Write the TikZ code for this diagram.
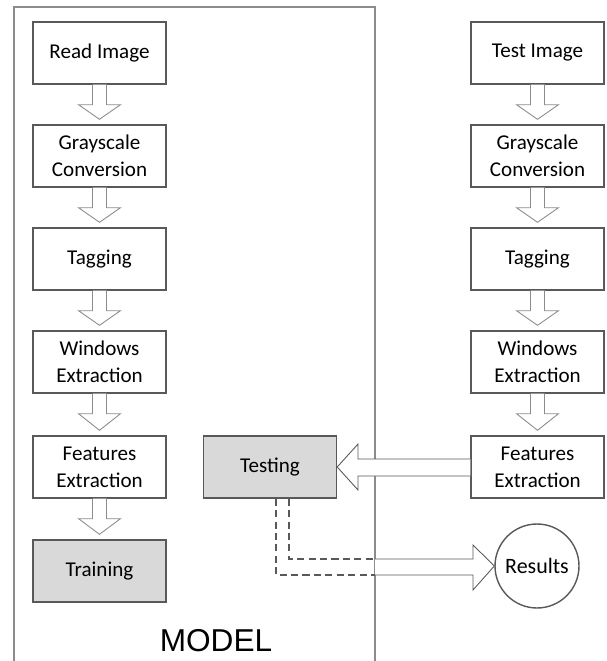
\documentclass[tikz,border=0pt]{standalone}
\usepackage{fontspec}
\setmainfont{Carlito}
\newfontfamily\modelfont{Liberation Sans}
\usepackage{tikz}
\usetikzlibrary{calc}

\definecolor{boxline}{HTML}{595959}
\definecolor{boxfill}{HTML}{D9D9D9}
\definecolor{frameline}{HTML}{8C8C8C}

\tikzset{
  stepbox/.style={draw=boxline, line width=0.8pt, fill=white, minimum width=2.66cm,
    minimum height=1.24cm, align=center, font=\fontsize{12}{15.4}\selectfont},
  greybox/.style={stepbox, fill=boxfill},
  blockarrow/.style={draw=frameline, line width=0.5pt, fill=white},
  dashline/.style={boxline, dash pattern=on 4pt off 2.5pt, line width=0.6pt}
}

% hollow block arrow going down from box #1 to box #2
\newcommand{\flowdown}[2]{%
  \draw[blockarrow] ($(#1.south)+(-7,0)$) -- ($(#1.south)+(-7,20)$) -- ($(#1.south)+(-21,20)$)
    -- ($(#2.north)+(0,-5)$) -- ($(#1.south)+(21,20)$) -- ($(#1.south)+(7,20)$) -- ($(#1.south)+(7,0)$);}

\begin{document}
\begin{tikzpicture}[x=0.02cm, y=-0.02cm]
            \useasboundingbox (0,0) rectangle (606,661);

            % The model frame
            \draw[frameline, line width=0.7pt] (14,661) -- (14,7) -- (375,7) -- (375,661);
            \node[font=\modelfont\fontsize{18}{20}\selectfont] (model) at (216,641) {MODEL};

            % Place the training steps
            \node[stepbox] (r1) at (99.5,53) {Read Image};
            \node[stepbox] (r2) at (99.5,156) {Grayscale\\Conversion};
            \node[stepbox] (r3) at (99.5,259) {Tagging};
            \node[stepbox] (r4) at (99.5,362) {Windows\\Extraction};
            \node[stepbox] (r5) at (99.5,467) {Features\\Extraction};
            \node[greybox] (train) at (99.5,571) {Training};

            % Place the test steps
            \node[stepbox] (t1) at (537.5,53) {Test Image};
            \node[stepbox] (t2) at (537.5,156) {Grayscale\\Conversion};
            \node[stepbox] (t3) at (537.5,259) {Tagging};
            \node[stepbox] (t4) at (537.5,362) {Windows\\Extraction};
            \node[stepbox] (t5) at (537.5,467) {Features\\Extraction};

            % Testing and results
            \node[greybox] (test) at (270,467) {Testing};
            \node[circle, draw=boxline, line width=0.8pt, minimum size=1.68cm,
                  font=\fontsize{12.5}{15.4}\selectfont] (res) at (537,566) {Results};

            % The arrows!
            \flowdown{r1}{r2}
            \flowdown{r2}{r3}
            \flowdown{r3}{r4}
            \flowdown{r4}{r5}
            \flowdown{r5}{train}
            \flowdown{t1}{t2}
            \flowdown{t2}{t3}
            \flowdown{t3}{t4}
            \flowdown{t4}{t5}

            % features to testing
            \draw[blockarrow, draw=boxline] (t5.west |- 0,459) -- (358,459) -- (358,444) -- (test.east)
              -- (358,490) -- (358,476) -- (t5.west |- 0,476);

            % testing to results, dashed inside the model
            \coordinate (din) at (375,559);
            \coordinate (dout) at (375,575);
            \draw[dashline] ($(test.south)+(19,0)$) |- (din);
            \draw[dashline] ($(test.south)+(6,0)$) |- (dout);
            \draw[blockarrow, draw=boxline] (din) -- (473,559) -- (473,545) -- (res.west)
              -- (473,590) -- (473,575) -- (dout);
        \end{tikzpicture}
\end{document}
